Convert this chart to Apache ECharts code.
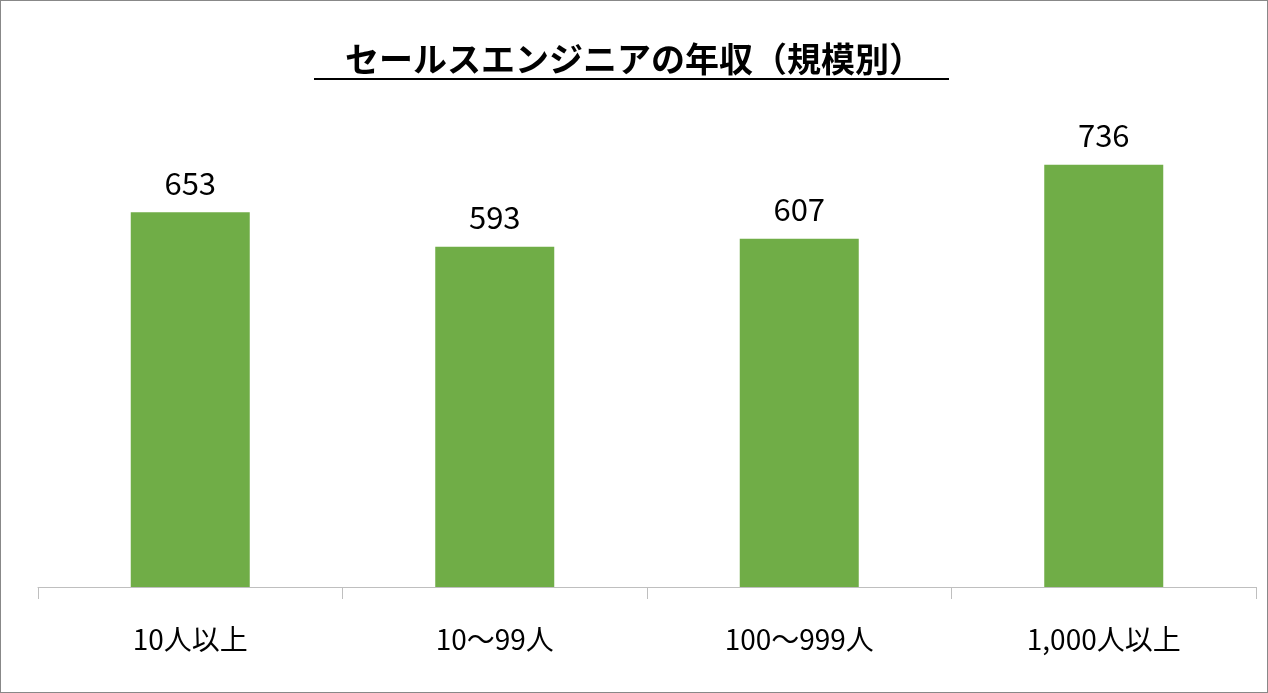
<!DOCTYPE html>
<html><head><meta charset="utf-8">
<script src="https://cdn.jsdelivr.net/npm/echarts@6/dist/echarts.min.js"></script>
<style>html,body{margin:0;padding:0;background:#fff}#c{width:1266px;height:691px;border:1px solid #888}</style>
</head><body><div id="c"></div>
<script>
const categories = ['10人以上','10〜99人','100〜999人','1,000人以上'];
const values = [653, 593, 607, 736];
const titleText = 'セールスエンジニアの年収（規模別）';
const chart = echarts.init(document.getElementById('c'));
const font = '"Noto Sans CJK JP", "Liberation Sans", sans-serif';
chart.setOption({
  animation:false,
  title:{text:titleText,left:'center',top:36,textStyle:{fontFamily:font,fontSize:34,fontWeight:'bold',color:'#000'}},
  graphic:[{type:'line',shape:{x1:313,y1:78,x2:948,y2:78},style:{stroke:'#000',lineWidth:2}}],
  grid:{left:37,right:11,top:127,bottom:105},
  xAxis:{type:'category',data:categories,
    axisLine:{lineStyle:{color:'#bfbfbf',width:1}},
    axisTick:{show:true,length:12,lineStyle:{color:'#bfbfbf'}},
    axisLabel:{fontFamily:font,fontSize:28,color:'#000',margin:38}},
  yAxis:{type:'value',min:0,max:800,show:false,splitLine:{show:false}},
  series:[{type:'bar',data:values,barWidth:119,itemStyle:{color:'#70ad47'},
    label:{show:true,position:'top',distance:14,fontFamily:font,fontSize:31,color:'#000'}}]
});
</script></body></html>
